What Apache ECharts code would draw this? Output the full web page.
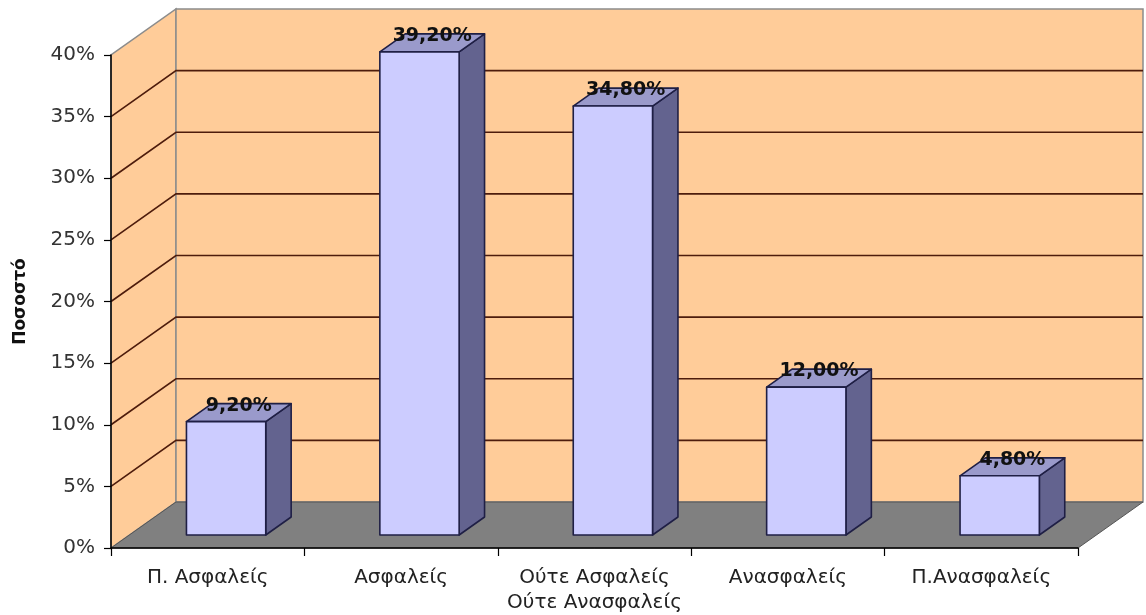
<!DOCTYPE html>
<html>
<head>
<meta charset="utf-8">
<script src="https://cdn.jsdelivr.net/npm/echarts@6/dist/echarts.min.js"></script>
<style>
  html, body { margin: 0; padding: 0; background: #ffffff; }
  #chart { width: 1146px; height: 615px; }
</style>
</head>
<body>
<div id="chart"></div>
<script>
// Survey answers: share of respondents per feeling of safety
const categories = ['Π. Ασφαλείς', 'Ασφαλείς', 'Ούτε Ασφαλείς\nΟύτε Ανασφαλείς', 'Ανασφαλείς', 'Π.Ανασφαλείς'];
const values = [9.2, 39.2, 34.8, 12.0, 4.8];
const yMin = 0;
const yMax = 40;
const yStep = 5;
const yTicks = [0, 5, 10, 15, 20, 25, 30, 35, 40];

// Pseudo-3D look: depth of the box and where the bars sit inside it
const DX = 65, DY = -46;          // offset of the back wall from the front plane
const BAR_FRONT = 0.283;          // bar front face, as a fraction of the depth
const BAR_BACK = 0.674;           // bar back face
const BAR_WIDTH = 0.41;           // fraction of the category band

const WALL = '#FFCC99';
const FLOOR = '#808080';
const GRID_LINE = '#4E1C0C';
const EDGE = '#8C8C8C';
const BAR_FACE = '#CCCCFF';
const BAR_SIDE = '#63638F';
const BAR_TOP = '#9A9ACB';
const BAR_EDGE = '#1F1F45';

const fmtPct = v => v.toFixed(2).replace('.', ',') + '%';

function renderBox(params, api) {
  const cs = params.coordSys;
  const x0 = cs.x, x1 = cs.x + cs.width;
  const yTop = cs.y, yBot = cs.y + cs.height;
  const children = [];
  // left wall
  children.push({
    type: 'polygon',
    shape: { points: [[x0, yBot], [x0, yTop], [x0 + DX, yTop + DY], [x0 + DX, yBot + DY]] },
    style: { fill: WALL, stroke: EDGE, lineWidth: 1.5 }
  });
  // back wall
  children.push({
    type: 'polygon',
    shape: { points: [[x0 + DX, yTop + DY], [x1 + DX, yTop + DY], [x1 + DX, yBot + DY], [x0 + DX, yBot + DY]] },
    style: { fill: WALL, stroke: EDGE, lineWidth: 1.5 }
  });
  // floor
  children.push({
    type: 'polygon',
    shape: { points: [[x0, yBot], [x1, yBot], [x1 + DX, yBot + DY], [x0 + DX, yBot + DY]] },
    style: { fill: FLOOR, stroke: '#555555', lineWidth: 1 }
  });
  // grid lines on both walls
  yTicks.forEach(v => {
    if (v <= yMin || v >= yMax) return;
    const y = api.coord([0, v])[1];
    children.push({
      type: 'polyline',
      shape: { points: [[x0, y], [x0 + DX, y + DY], [x1 + DX, y + DY]] },
      style: { fill: null, stroke: GRID_LINE, lineWidth: 1.6 }
    });
  });
  return { type: 'group', children };
}

function renderBar(params, api) {
  const idx = api.value(0);
  const v = api.value(1);
  const top = api.coord([idx, v]);
  const base = api.coord([idx, 0]);
  const band = api.size([1, 0])[0];
  const hw = band * BAR_WIDTH / 2;
  const fx = DX * BAR_FRONT, fy = DY * BAR_FRONT;
  const bx = DX * BAR_BACK, by = DY * BAR_BACK;
  const xl = top[0] - hw, xr = top[0] + hw;
  const yt = top[1], yb = base[1];
  const edge = { stroke: BAR_EDGE, lineWidth: 1.6, lineJoin: 'round' };
  return {
    type: 'group',
    children: [
      {
        type: 'polygon',
        shape: { points: [[xr + fx, yt + fy], [xr + bx, yt + by], [xr + bx, yb + by], [xr + fx, yb + fy]] },
        style: Object.assign({ fill: BAR_SIDE }, edge)
      },
      {
        type: 'polygon',
        shape: { points: [[xl + fx, yt + fy], [xr + fx, yt + fy], [xr + bx, yt + by], [xl + bx, yt + by]] },
        style: Object.assign({ fill: BAR_TOP }, edge)
      },
      {
        type: 'rect',
        shape: { x: xl + fx, y: yt + fy, width: xr - xl, height: yb - yt },
        style: Object.assign({ fill: BAR_FACE }, edge)
      },
      {
        type: 'text',
        z2: 10,
        style: {
          x: top[0] + DX * (BAR_FRONT + BAR_BACK) / 2,
          y: yt + by + 2,
          text: fmtPct(v),
          align: 'center',
          verticalAlign: 'middle',
          fill: '#111111',
          font: 'bold 19px "DejaVu Sans"'
        }
      }
    ]
  };
}

const chart = echarts.init(document.getElementById('chart'), null, { renderer: 'canvas' });
chart.setOption({
  animation: false,
  backgroundColor: '#ffffff',
  grid: { left: 111, right: 68, top: 55, bottom: 67, containLabel: false },
  xAxis: {
    type: 'category',
    data: categories,
    z: 10,
    axisLine: { show: true, lineStyle: { color: '#000000', width: 1.5 } },
    axisTick: { show: true, alignWithLabel: false, length: 8, lineStyle: { color: '#000000', width: 1.2 } },
    axisLabel: {
      interval: 0,
      margin: 17,
      color: '#222222',
      fontFamily: 'DejaVu Sans',
      fontSize: 20,
      lineHeight: 25
    },
    splitLine: { show: false }
  },
  yAxis: {
    type: 'value',
    min: yMin,
    max: yMax,
    interval: yStep,
    z: 10,
    name: 'Ποσοστό',
    nameLocation: 'middle',
    nameRotate: 90,
    nameGap: 82,
    nameTextStyle: { fontFamily: 'DejaVu Sans', fontWeight: 'bold', fontSize: 17, color: '#111111' },
    axisLine: { show: true, lineStyle: { color: '#000000', width: 1.5 } },
    axisTick: { show: true, length: 7, lineStyle: { color: '#000000', width: 1.2 } },
    axisLabel: {
      formatter: '{value}%',
      margin: 16,
      color: '#333333',
      fontFamily: 'DejaVu Sans',
      fontSize: 20
    },
    splitLine: { show: false }
  },
  series: [
    {
      type: 'custom',
      name: 'box',
      z: 1,
      clip: false,
      silent: true,
      renderItem: renderBox,
      data: [[0, 0]]
    },
    {
      type: 'custom',
      name: 'Ποσοστό',
      z: 3,
      clip: false,
      renderItem: renderBar,
      encode: { x: 0, y: 1 },
      data: values.map((v, i) => [i, v])
    }
  ]
});
</script>
</body>
</html>
